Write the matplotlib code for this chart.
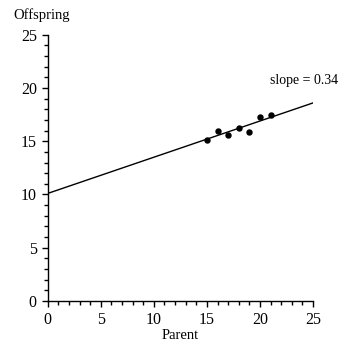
import matplotlib
matplotlib.use("Agg")
import matplotlib.pyplot as plt
import numpy as np
from matplotlib.ticker import MultipleLocator

plt.rcParams["font.family"] = ["Liberation Serif", "DejaVu Serif"]

# data
parent = [15, 16, 17, 18, 19, 20, 21]
offspring = [15.16, 15.95, 15.57, 16.23, 15.91, 17.27, 17.42]
slope = 0.34
intercept = 10.1
line_x = [0, 25]

fig = plt.figure(figsize=(3.52, 3.45), dpi=100)
ax = fig.add_axes([0.136, 0.128, 0.753, 0.771])

line_y = [intercept + slope * x for x in line_x]
ax.plot(line_x, line_y, color="black", lw=1.0)
ax.plot(parent, offspring, "o", color="black", ms=3.6)
ax.text(24.2, 20.1, f"slope = {slope:.2f}", ha="center", va="bottom", fontsize=10)

ax.set_xlim(0, 25)
ax.set_ylim(0, 25)
ax.xaxis.set_major_locator(MultipleLocator(5))
ax.xaxis.set_minor_locator(MultipleLocator(1))
ax.yaxis.set_major_locator(MultipleLocator(5))
ax.yaxis.set_minor_locator(MultipleLocator(1))
ax.tick_params(which="major", length=4, width=1, labelsize=11.5, pad=4)
ax.tick_params(which="minor", length=3, width=1)
for side in ["top", "right"]:
    ax.spines[side].set_visible(False)
for side in ["left", "bottom"]:
    ax.spines[side].set_linewidth(1)

ax.set_xlabel("Parent", fontsize=10.5, labelpad=1)
fig.text(0.037, 0.955, "Offspring", fontsize=10.5, ha="left", va="center")

fig.savefig("out.png", dpi=100)
